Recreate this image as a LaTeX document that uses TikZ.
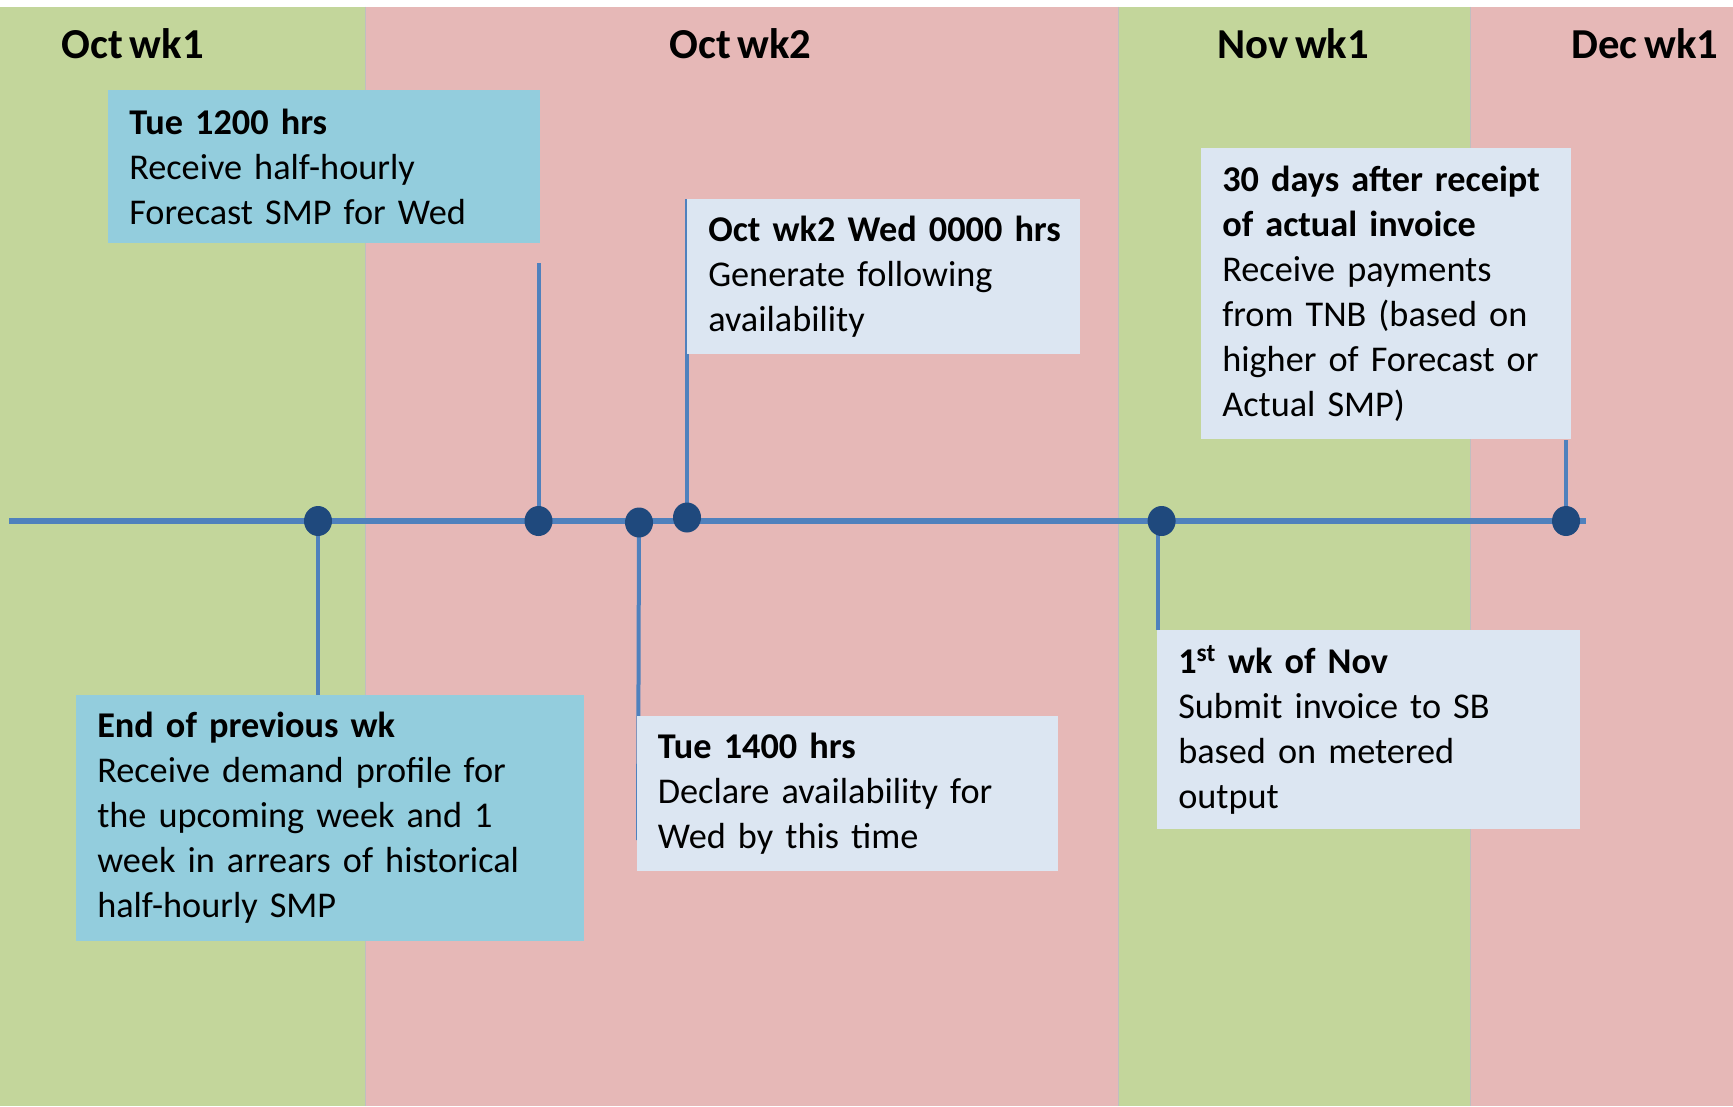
\documentclass[tikz,border=0pt]{standalone}
\usepackage{fontspec}
\setmainfont{Carlito}[WordSpace=0.7]
\usetikzlibrary{shapes.geometric,calc}
\definecolor{bandgreen}{HTML}{C3D69B}
\definecolor{bandpink}{HTML}{E6B8B7}
\definecolor{boxaqua}{HTML}{93CDDD}
\definecolor{boxpale}{HTML}{DCE6F2}
\definecolor{tline}{HTML}{4F81BD}
\definecolor{tdot}{HTML}{1F497D}
\pgfdeclarelayer{bg}
\pgfdeclarelayer{lines}
\pgfsetlayers{bg,lines,main}
\tikzset{
  header/.style={font=\fontsize{32}{38}\selectfont\bfseries, inner sep=0pt},
  evbox/.style={rectangle, anchor=north west, inner xsep=15.75pt, inner ysep=0pt,
    align=left, font=\fontsize{27.2}{33.7}\selectfont},
  evdot/.style={ellipse, fill=tdot, minimum width=21pt, minimum height=22.5pt, inner sep=0pt},
  axis/.style={draw=tline, line width=5pt},
  stem/.style={draw=tline, line width=3pt}
}
\begin{document}
\begin{tikzpicture}[x=0.75pt,y=-0.75pt]
\useasboundingbox (0,0) rectangle (1733,1106);
\begin{pgfonlayer}{bg}
  \fill[white] (0,0) rectangle (1733,1106);
  \fill[bandgreen] (0,7) rectangle (365,1106);
  \fill[bandpink] (365,7) rectangle (1118,1106);
  \fill[bandgreen] (1118,7) rectangle (1470,1106);
  \fill[bandpink] (1470,7) rectangle (1733,1106);
  \draw[black!25, line width=0.6pt] (365,7) -- (365,1106) (1118,7) -- (1118,1106) (1470,7) -- (1470,1106);
\end{pgfonlayer}

\node[header] (h1) at (132.6,44) {Oct wk1};
\node[header] (h2) at (740.5,44) {Oct wk2};
\node[header] (h3) at (1293,44) {Nov wk1};
\node[header] (h4) at (1645,44) {Dec wk1};

\node[evbox, fill=boxaqua, minimum width=324pt, minimum height=115.1pt, text width=292.5pt] (bA) at (108,89.5)
  {\textbf{Tue 1200 hrs}\\Receive half-hourly\\Forecast SMP for Wed};
\node[evbox, fill=boxaqua, minimum width=380.6pt, minimum height=184.1pt, text width=349.1pt] (bB) at (76,695)
  {\textbf{End of previous wk}\\Receive demand profile for\\the upcoming week and 1\\week in arrears of historical\\half-hourly SMP};
\node[evbox, fill=boxpale, minimum width=294.75pt, minimum height=116.25pt, text width=263.25pt] (bC) at (687,199)
  {\mbox{\textbf{Oct wk2 Wed 0000 hrs}}\\Generate following\\availability};
\node[evbox, fill=boxpale, minimum width=315.75pt, minimum height=116.25pt, text width=284.25pt] (bD) at (636.6,716)
  {\textbf{Tue 1400 hrs}\\Declare availability for\\Wed by this time};
\node[evbox, fill=boxpale, minimum width=317.25pt, minimum height=149.25pt, text width=285.75pt] (bE) at (1157,630)
  {\textbf{1\textsuperscript{st} wk of Nov}\\Submit invoice to SB\\based on metered\\output};
\node[evbox, fill=boxpale, minimum width=275.25pt, minimum height=218.25pt, text width=246pt] (bF) at (1201,148)
  {\mbox{\textbf{30 days after receipt}}\\\textbf{of actual invoice}\\Receive payments\\from TNB (based on\\higher of Forecast or\\Actual SMP)};

\coordinate (t0) at (9,521);
\coordinate (t1) at (1586,521);
\node[evdot] (d1) at (318,521) {};
\node[evdot] (d2) at (538.5,521) {};
\node[evdot] (d3) at (639,522.5) {};
\node[evdot] (d4) at (687,517.5) {};
\node[evdot] (d5) at (1161.6,521) {};
\node[evdot] (d6) at (1566,521) {};
\coordinate (s2) at (538.5,263);
\coordinate (s3) at (638,840);

\begin{pgfonlayer}{lines}
  \draw[axis] (t0) -- (t1);
  \draw[stem] (d1.center) -- (d1 |- bB.north);
  \draw[stem] (d2.center) -- (s2);
  \draw[stem] (d3.center) -- (s3);
  \draw[stem] (d4.center) -- (d4 |- bC.north);
  \draw[stem] ([xshift=-2.4pt]d5.center) -- ([xshift=-2.4pt]d5 |- bE.north);
  \draw[stem] (d6.center) -- (d6 |- bF.south);
\end{pgfonlayer}
\end{tikzpicture}
\end{document}
